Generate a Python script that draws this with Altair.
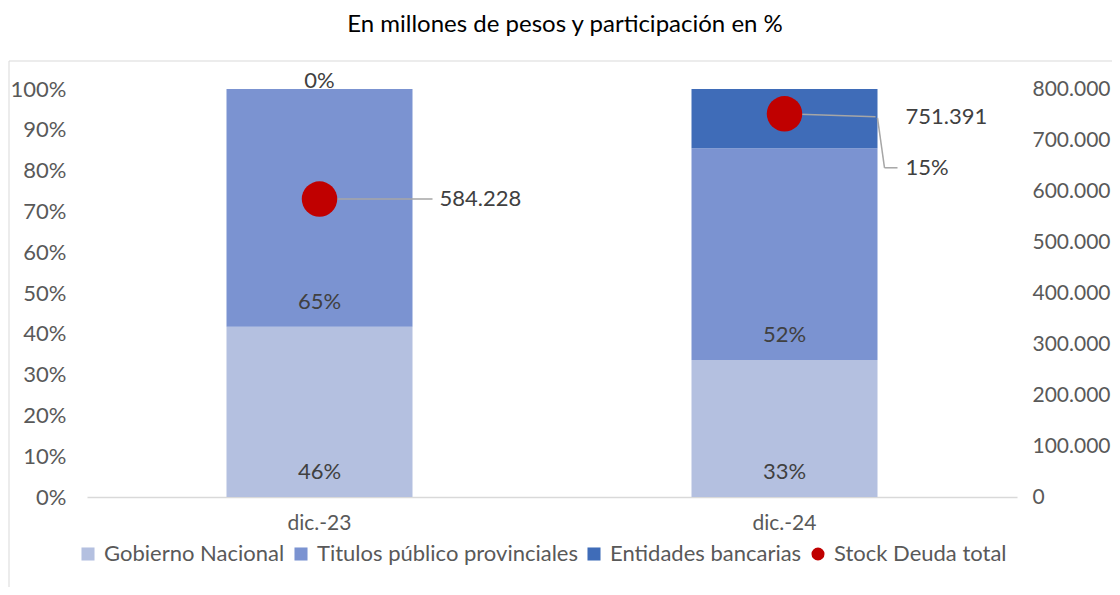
import altair as alt
import pandas as pd

categorias = ["dic.-23", "dic.-24"]
series = ["Gobierno Nacional", "Titulos público provinciales", "Entidades bancarias", "Stock Deuda total"]
gobierno = [0.417, 0.336]
titulos = [0.583, 0.519]
entidades = [0.0, 0.145]
etiq_gob = ["46%", "33%"]
etiq_tit = ["65%", "52%"]
etiq_ent = ["0%", "15%"]
stock = [584228, 751391]
colores = ["#B4C0E0", "#7B93D1", "#3F6CB8", "#C00000"]
formas = ["square", "square", "square", "circle"]

FONT = "Lato"
FS = 22
GRIS = "#595959"
TXT = "#404040"
LEADER = "#A6A6A6"

rows = []
for i, c in enumerate(categorias):
    rows.append({"cat": c, "serie": series[0], "valor": gobierno[i], "etiqueta": etiq_gob[i], "orden": 0})
    rows.append({"cat": c, "serie": series[1], "valor": titulos[i], "etiqueta": etiq_tit[i], "orden": 1})
    rows.append({"cat": c, "serie": series[2], "valor": entidades[i], "etiqueta": etiq_ent[i], "orden": 2})
df = pd.DataFrame(rows)
df_stock = pd.DataFrame({"cat": categorias, "stock": stock, "serie": series[3], "ent": etiq_ent})

xscale = alt.Scale(paddingInner=0.6, paddingOuter=0.3)
xaxis = alt.Axis(labelFont=FONT, labelFontSize=21, labelColor=GRIS, labelAngle=0,
                 ticks=False, domainColor="#D9D9D9", domainWidth=1.3, labelPadding=15)
xenc = alt.X("cat:N", sort=categorias, title=None, scale=xscale, axis=xaxis)

color_scale = alt.Scale(domain=series, range=colores)
shape_scale = alt.Scale(domain=series, range=formas)
legend = alt.Legend(title=None, orient="none", direction="horizontal", legendX=-10, legendY=454,
                    labelFont=FONT, labelFontSize=FS, labelColor=GRIS, symbolSize=170,
                    symbolStrokeWidth=0, labelOffset=5, columnPadding=5, symbolOpacity=1,
                    labelLimit=500)

yscale = alt.Scale(domain=[0, 1])
yaxis = alt.Axis(format=".0%", values=[i / 10 for i in range(11)], grid=False, ticks=False,
                 domain=False, labelFont=FONT, labelFontSize=FS, labelColor=GRIS, labelPadding=21)

base = alt.Chart(df).transform_stack(
    stack="valor", groupby=["cat"], as_=["y0", "y1"], sort=[alt.SortField("orden", order="ascending")]
)

bars = base.mark_bar().encode(
    x=xenc,
    y=alt.Y("y0:Q", scale=yscale, title=None, axis=yaxis),
    y2="y1:Q",
    color=alt.Color("serie:N", scale=color_scale, legend=legend),
)

txt_in = base.transform_filter(alt.datum.orden < 2).mark_text(
    font=FONT, fontSize=FS, color=TXT, baseline="middle", dy=-25
).encode(x=xenc, y=alt.Y("y0:Q", scale=yscale, title=None, axis=yaxis), text="etiqueta:N")

txt_top = base.transform_filter((alt.datum.orden == 2) & (alt.datum.cat == categorias[0])).mark_text(
    font=FONT, fontSize=FS, color=TXT, baseline="middle", dy=-8
).encode(x=xenc, y=alt.Y("y1:Q", scale=yscale, title=None, axis=yaxis), text="etiqueta:N")

border = alt.Chart(pd.DataFrame({"k": [0]})).mark_rect(
    fill=None, stroke="#D9D9D9", strokeWidth=1
).encode(x=alt.value(-78), x2=alt.value(1045), y=alt.value(-28), y2=alt.value(520))

left = alt.layer(border, bars, txt_in, txt_top)

sscale = alt.Scale(domain=[0, 800000])
sbase = alt.Chart(df_stock).transform_calculate(
    lab="replace(format(datum.stock, ','), ',', '.')"
)
saxis = alt.Axis(orient="right", values=[i * 100000 for i in range(9)],
                 labelExpr="replace(format(datum.value, ','), ',', '.')",
                 grid=False, ticks=False, domain=False, labelFont=FONT, labelFontSize=21,
                 labelColor=GRIS, labelPadding=15)
ypt = alt.Y("stock:Q", scale=sscale, title=None, axis=saxis)
xr = alt.X("cat:N", sort=categorias, title=None, bandPosition=0.5, scale=xscale, axis=xaxis)
xr2 = alt.X2("cat:N", bandPosition=0.5)

s23 = sbase.transform_filter(alt.datum.cat == categorias[0])
s24 = sbase.transform_filter(alt.datum.cat == categorias[1])

rule23 = s23.mark_rule(color=LEADER, strokeWidth=1.5, x2Offset=113).encode(
    x=xr, x2=xr2, y=ypt, y2="stock:Q")
rule24 = s24.mark_rule(color=LEADER, strokeWidth=1.5, x2Offset=91, y2Offset=3).encode(
    x=xr, x2=xr2, y=ypt, y2="stock:Q")
rule24b = s24.mark_rule(color=LEADER, strokeWidth=1.5, xOffset=93, x2Offset=100, yOffset=4,
                        y2Offset=54).encode(x=xr, x2=xr2, y=ypt, y2="stock:Q")
rule24c = s24.mark_rule(color=LEADER, strokeWidth=1.5, xOffset=100, x2Offset=113, yOffset=54,
                        y2Offset=54).encode(x=xr, x2=xr2, y=ypt, y2="stock:Q")

points = sbase.mark_point(filled=True, opacity=1, size=1260, strokeWidth=0).encode(
    x=xr, y=ypt,
    color=alt.Color("serie:N", scale=color_scale, legend=legend),
    shape=alt.Shape("serie:N", scale=shape_scale, legend=legend),
)

lab23 = s23.mark_text(font=FONT, fontSize=FS, color=TXT, align="left", baseline="middle", dx=120).encode(
    x=xr, y=ypt, text="lab:N")
lab24 = s24.mark_text(font=FONT, fontSize=FS, color=TXT, align="left", baseline="middle", dx=121, dy=3).encode(
    x=xr, y=ypt, text="lab:N")
lab15 = s24.mark_text(font=FONT, fontSize=FS, color=TXT, align="left", baseline="middle", dx=121, dy=54).encode(
    x=xr, y=ypt, text="ent:N")

right = alt.layer(rule23, rule24, rule24b, rule24c, points, lab23, lab24, lab15)

chart = alt.layer(left, right).resolve_scale(y="independent").properties(
    width=930, height=408,
    autosize=alt.AutoSizeParams(type="none"),
    padding={"left": 79, "top": 81, "right": 95, "bottom": 90},
    title=alt.TitleParams("En millones de pesos y participación en %", font=FONT, fontSize=24,
                          fontWeight="normal", color="#000000", offset=24, dx=13, anchor="middle",
                          frame="group"),
).configure_view(stroke=None)

chart.save("out.html", embed_options={"renderer": "svg", "actions": False})
